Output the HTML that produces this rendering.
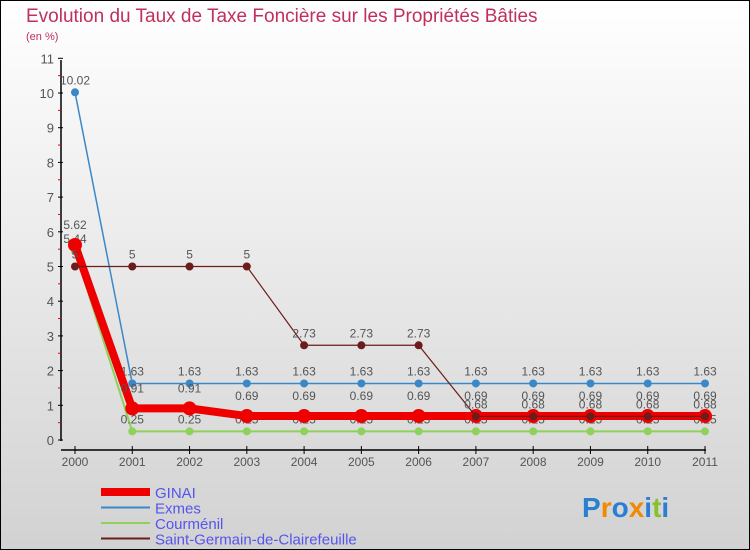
<!DOCTYPE html>
<html><head><meta charset="utf-8"><style>
body{margin:0;width:750px;height:550px;overflow:hidden;font-family:"Liberation Sans",sans-serif}
#wrap{position:absolute;left:0;top:0;width:748px;height:548px;border:1px solid #000;background:linear-gradient(#ffffff,#d2d2d2)}
</style></head><body>
<div id="wrap">
<svg id="chart" width="750" height="550" style="position:absolute;left:-1px;top:-1px"></svg>
</div>
<script>
const years=["2000","2001","2002","2003","2004","2005","2006","2007","2008","2009","2010","2011"];
const ginai=[5.62,0.91,0.91,0.69,0.69,0.69,0.69,0.69,0.69,0.69,0.69,0.69];
const exmes=[10.02,1.63,1.63,1.63,1.63,1.63,1.63,1.63,1.63,1.63,1.63,1.63];
const courmenil=[5.44,0.25,0.25,0.25,0.25,0.25,0.25,0.25,0.25,0.25,0.25,0.25];
const saintGermain=[5,5,5,5,2.73,2.73,2.73,0.68,0.68,0.68,0.68,0.68];
const yTicks=[0,1,2,3,4,5,6,7,8,9,10,11];
const svg=document.getElementById('chart');
const NS='http://www.w3.org/2000/svg';
function X(i){return 75+i*(630/11);}
function Y(v){return 440-v*34.7;}
function mk(tag,attrs,name,parent){const e=document.createElementNS(NS,tag);for(const k in attrs)e.setAttribute(k,attrs[k]);


(parent||svg).appendChild(e);return e;}
function txt(x,y,s,name,opt){const t=mk('text',Object.assign({x:x,y:y,'font-size':12,fill:'#555','font-family':'Liberation Sans, sans-serif'},opt||{}),name);t.textContent=s;return t;}
// title
txt(26,22,'Evolution du Taux de Taxe Foncière sur les Propriétés Bâties','chart-title',{'font-size':19,fill:'#c0305a'});
txt(26,40,'(en %)','y-axis-unit',{'font-size':11,fill:'#c0305a'});
// axes
mk('line',{x1:61,y1:60,x2:61,y2:441,stroke:'#000','stroke-width':1.5},'y-axis');
mk('line',{x1:61,y1:450,x2:706,y2:450,stroke:'#000','stroke-width':1.5},'x-axis');
yTicks.forEach(v=>{mk('line',{x1:58,y1:Y(v),x2:63,y2:Y(v),stroke:'#000'},'y-tick');
 txt(54,Y(v)+5,String(v),'y-tick-label',{'text-anchor':'end','font-size':13});
 if(v<11)mk('line',{x1:58,y1:Y(v+0.5),x2:61,y2:Y(v+0.5),stroke:'#e00'},'y-minor-tick');});
years.forEach((y,i)=>{mk('line',{x1:X(i),y1:446,x2:X(i),y2:454,stroke:'#000'},'x-tick');
 txt(X(i),466,y,'x-tick-label',{'text-anchor':'middle','font-size':12});});
function series(data,color,w,r,name,labelDy){
 mk('polyline',{points:data.map((v,i)=>X(i)+','+Y(v)).join(' '),fill:'none',stroke:color,'stroke-width':w},name+'-line');
 data.forEach((v,i)=>{mk('circle',{cx:X(i),cy:Y(v),r:r,fill:color},name+'-point');
  txt(X(i),Y(v)+labelDy,String(v),name+'-value-label',{'text-anchor':'middle'});});
}
series(courmenil,'#8fd15a',2,4,'courmenil',-8);
series(exmes,'#3a88c8',1.5,4,'exmes',-8);
series(ginai,'#ee0000',8,7,'ginai',-16);
series(saintGermain,'#6b1c1c',1.2,4,'saint-germain',-8);
// legend
const leg=[['GINAI','#ee0000',8],['Exmes','#3a88c8',2],['Courménil','#8fd15a',2],['Saint-Germain-de-Clairefeuille','#6b1c1c',2]];
leg.forEach((l,k)=>{const y=492+k*15.5;
 mk('line',{x1:101,y1:y,x2:150,y2:y,stroke:l[1],'stroke-width':l[2]},'legend-swatch');
 txt(155,y+6,l[0],'legend-entry',{'font-size':15,fill:'#5555ee'});});
// logo
const lg=mk('text',{x:582,y:517,'font-size':28,'font-weight':'bold','font-family':'Liberation Sans, sans-serif'},'proxiti-logo');
[['P','#2a7fd0'],['r','#f08a00'],['o','#2a7fd0'],['x','#f08a00'],['i','#2a7fd0'],['t','#88c030'],['i','#2a7fd0']].forEach(c=>{const s=document.createElementNS(NS,'tspan');s.setAttribute('fill',c[1]);s.textContent=c[0];lg.appendChild(s);});
</script>
</body></html>
